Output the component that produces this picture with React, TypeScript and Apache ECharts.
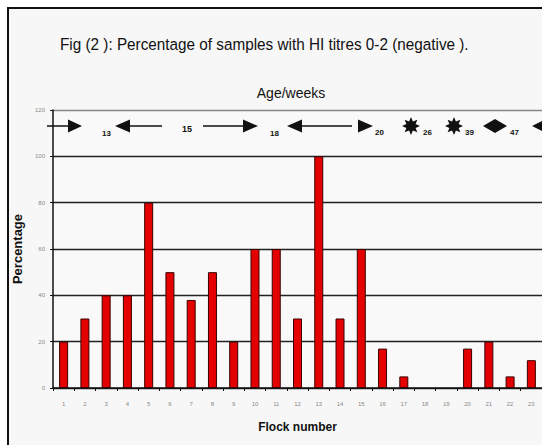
import React, { useEffect, useRef } from "react";
import * as echarts from "echarts";

const flocks: string[] = Array.from({ length: 23 }, (_, i) => String(i + 1));
const percentages: number[] = [20, 30, 40, 40, 80, 50, 38, 50, 20, 60, 60, 30, 100, 30, 60, 17, 5, 0, 0, 17, 20, 5, 12];
const yTicks = { min: 0, max: 120, interval: 20 };
const title = "Fig (2 ): Percentage of samples with HI titres 0-2 (negative ).";
const subTitle = "Age/weeks";
const ageLabels = ["13", "15", "18", "20", "26", "39", "47"];

const NARROW = "'Liberation Sans', Arial, sans-serif";

function star(cx: number, cy: number, ro: number, ri: number, n: number): number[][] {
  const pts: number[][] = [];
  for (let i = 0; i < n * 2; i++) {
    const r = i % 2 === 0 ? ro : ri;
    const a = (Math.PI * i) / n - Math.PI / 2;
    pts.push([cx + r * Math.cos(a), cy + r * Math.sin(a)]);
  }
  return pts;
}

export default function App() {
  const ref = useRef<HTMLDivElement>(null);
  useEffect(() => {
    if (!ref.current) return;
    const chart = echarts.init(ref.current, null, { renderer: "svg" });
    const Y = 126;
    const blk = { fill: "#111" };
    const lineStyle = { stroke: "#111", lineWidth: 1.5 };
    const tri = (pts: number[][]) => ({ type: "polygon", shape: { points: pts }, style: blk, z: 10 });
    const ln = (x1: number, x2: number) => ({ type: "line", shape: { x1, y1: Y, x2, y2: Y }, style: lineStyle, z: 10 });
    const num = (t: string, x: number, y: number, fs = 8) => ({
      type: "text",
      x,
      y,
      style: { text: t, fontSize: fs, fontWeight: "bold", fontFamily: NARROW, fill: "#111", verticalAlign: "middle" },
      z: 10,
    });
    chart.setOption({
      animation: false,
      backgroundColor: "#ffffff",
      graphic: [
        { type: "rect", shape: { x: 8, y: 8, width: 600, height: 500 }, style: { fill: "#f7f7f7", stroke: "#111", lineWidth: 2 }, z: -100 },
        { type: "text", x: 60, y: 44, scaleX: 0.9, style: { text: title, fontSize: 17, fontFamily: NARROW, fill: "#111", verticalAlign: "middle" } },
        { type: "text", x: 291, y: 93, style: { text: subTitle, fontSize: 14, fontFamily: NARROW, fill: "#111", align: "center", verticalAlign: "middle" } },
        ln(47, 70), tri([[68, 119.5], [82, Y], [68, 132.5]]),
        num(ageLabels[0], 102, 133),
        tri([[130, 119.5], [115, Y], [130, 132.5]]), ln(128, 162),
        num(ageLabels[1], 182, 129, 9),
        ln(203, 245), tri([[243, 119.5], [258, Y], [243, 132.5]]),
        num(ageLabels[2], 270, 133),
        tri([[302, 119.5], [287, Y], [302, 132.5]]), ln(300, 352),
        tri([[358, 119.5], [373, Y], [358, 132.5]]),
        num(ageLabels[3], 375, 132),
        { type: "polygon", shape: { points: star(411, Y, 9, 5, 8) }, style: blk, z: 10 },
        num(ageLabels[4], 423, 132),
        { type: "polygon", shape: { points: star(454, Y, 9, 5, 8) }, style: blk, z: 10 },
        num(ageLabels[5], 465, 132),
        tri([[495, 119], [483, Y], [495, 133]]), tri([[495, 119], [507, Y], [495, 133]]),
        num(ageLabels[6], 510, 132),
        tri([[545, 119.5], [532, Y], [545, 132.5]]),
      ],
      grid: { left: 53, top: 110, width: 490, height: 278, show: true, backgroundColor: "#f9f9f9", borderWidth: 0 },
      xAxis: {
        type: "category",
        data: flocks,
        name: "Flock number",
        nameLocation: "middle",
        nameGap: 33,
        nameTextStyle: { fontSize: 12, fontWeight: "bold", fontFamily: NARROW, color: "#111" },
        axisLine: { lineStyle: { color: "#111", width: 1.5 } },
        axisTick: { show: true, length: 3, lineStyle: { color: "#111" } },
        axisLabel: { interval: 0, fontSize: 6, color: "#888", margin: 13, fontFamily: NARROW },
      },
      yAxis: {
        type: "value",
        min: yTicks.min,
        max: yTicks.max,
        interval: yTicks.interval,
        name: "Percentage",
        nameLocation: "middle",
        nameGap: 22,
        nameRotate: 90,
        nameTextStyle: { fontSize: 13, fontWeight: "bold", fontFamily: NARROW, color: "#111" },
        axisLine: { show: true, lineStyle: { color: "#111", width: 1.5 } },
        axisTick: { show: true, length: 3, lineStyle: { color: "#111" } },
        axisLabel: { fontSize: 6, color: "#888", margin: 8, fontFamily: NARROW },
        splitLine: { show: true, lineStyle: { color: ["#222", "#222", "#222", "#222", "#222", "#222", "#888"], width: 1.3 } },
      },
      series: [
        {
          type: "bar",
          data: percentages.map((v) => (v === 0 ? { value: v, itemStyle: { borderWidth: 0 } } : v)),
          barWidth: 9,
          itemStyle: { color: "#e40000", borderColor: "#3a0000", borderWidth: 1 },
        },
      ],
    });
    return () => chart.dispose();
  }, []);
  return <div ref={ref} style={{ position: "fixed", left: 0, top: 0, width: 542, height: 445 }} />;
}
